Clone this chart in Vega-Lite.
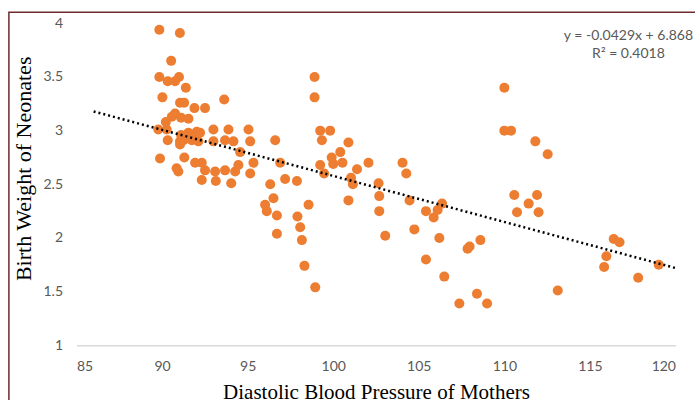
{
  "$schema": "https://vega.github.io/schema/vega-lite/v6.json",
  "width": 599,
  "height": 322,
  "autosize": {"type": "none"},
  "padding": {"left": 76.5, "top": 23.3, "right": 19.5, "bottom": 54.7},
  "background": "white",
  "config": {
    "view": {"stroke": null},
    "axis": {
      "labelFont": "Lato",
      "labelFontSize": 14,
      "labelColor": "#595959",
      "gridColor": "#d9d9d9",
      "gridWidth": 1,
      "ticks": false,
      "titleFont": "Liberation Serif",
      "titleFontWeight": "normal",
      "titleColor": "#000000",
      "titleFontSize": 21
    }
  },
  "datasets": {
    "pts": [
      {"dbp": 89.84, "bw": 3.94}, {"dbp": 91.04, "bw": 3.91}, {"dbp": 90.53, "bw": 3.65},
      {"dbp": 89.84, "bw": 3.50}, {"dbp": 90.33, "bw": 3.46}, {"dbp": 90.76, "bw": 3.46},
      {"dbp": 90.99, "bw": 3.50}, {"dbp": 91.39, "bw": 3.40}, {"dbp": 90.02, "bw": 3.31},
      {"dbp": 91.05, "bw": 3.26}, {"dbp": 91.29, "bw": 3.26}, {"dbp": 93.63, "bw": 3.29},
      {"dbp": 91.89, "bw": 3.21}, {"dbp": 92.51, "bw": 3.21}, {"dbp": 90.76, "bw": 3.16},
      {"dbp": 90.57, "bw": 3.13}, {"dbp": 91.11, "bw": 3.12}, {"dbp": 91.54, "bw": 3.11},
      {"dbp": 90.22, "bw": 3.08}, {"dbp": 89.78, "bw": 3.01}, {"dbp": 90.27, "bw": 3.01},
      {"dbp": 91.54, "bw": 2.98}, {"dbp": 92.03, "bw": 2.99}, {"dbp": 92.22, "bw": 2.98},
      {"dbp": 93.0, "bw": 3.01}, {"dbp": 93.88, "bw": 3.01}, {"dbp": 95.05, "bw": 3.01},
      {"dbp": 90.33, "bw": 2.91}, {"dbp": 91.05, "bw": 2.90}, {"dbp": 91.25, "bw": 2.91},
      {"dbp": 91.74, "bw": 2.91}, {"dbp": 92.12, "bw": 2.90}, {"dbp": 93.0, "bw": 2.90},
      {"dbp": 93.68, "bw": 2.91}, {"dbp": 94.17, "bw": 2.90}, {"dbp": 95.15, "bw": 2.90},
      {"dbp": 94.56, "bw": 2.80}, {"dbp": 95.34, "bw": 2.70}, {"dbp": 89.88, "bw": 2.74},
      {"dbp": 91.30, "bw": 2.75}, {"dbp": 91.93, "bw": 2.70}, {"dbp": 92.32, "bw": 2.70},
      {"dbp": 92.51, "bw": 2.63}, {"dbp": 93.10, "bw": 2.62}, {"dbp": 93.68, "bw": 2.63},
      {"dbp": 94.27, "bw": 2.62}, {"dbp": 94.46, "bw": 2.68}, {"dbp": 90.95, "bw": 2.62},
      {"dbp": 90.85, "bw": 2.65}, {"dbp": 95.15, "bw": 2.60}, {"dbp": 92.32, "bw": 2.54},
      {"dbp": 93.14, "bw": 2.53}, {"dbp": 94.04, "bw": 2.51}, {"dbp": 96.90, "bw": 2.70},
      {"dbp": 96.61, "bw": 2.91}, {"dbp": 91.05, "bw": 2.87}, {"dbp": 91.11, "bw": 2.96},
      {"dbp": 91.75, "bw": 2.95},
      {"dbp": 99.24, "bw": 3.00}, {"dbp": 99.82, "bw": 3.00}, {"dbp": 99.34, "bw": 2.91},
      {"dbp": 99.24, "bw": 2.68}, {"dbp": 99.47, "bw": 2.60}, {"dbp": 99.91, "bw": 2.75},
      {"dbp": 100.0, "bw": 2.69}, {"dbp": 100.41, "bw": 2.80}, {"dbp": 100.89, "bw": 2.89},
      {"dbp": 100.54, "bw": 2.70}, {"dbp": 102.06, "bw": 2.70}, {"dbp": 101.39, "bw": 2.64},
      {"dbp": 101.04, "bw": 2.56}, {"dbp": 101.15, "bw": 2.50}, {"dbp": 100.89, "bw": 2.35},
      {"dbp": 102.65, "bw": 2.51}, {"dbp": 102.69, "bw": 2.39}, {"dbp": 102.69, "bw": 2.25},
      {"dbp": 103.04, "bw": 2.02}, {"dbp": 104.05, "bw": 2.70}, {"dbp": 104.27, "bw": 2.60},
      {"dbp": 104.46, "bw": 2.35}, {"dbp": 104.74, "bw": 2.08}, {"dbp": 105.42, "bw": 2.25},
      {"dbp": 105.87, "bw": 2.19}, {"dbp": 106.10, "bw": 2.26}, {"dbp": 106.36, "bw": 2.32},
      {"dbp": 106.20, "bw": 2.00}, {"dbp": 105.42, "bw": 1.80}, {"dbp": 106.49, "bw": 1.64},
      {"dbp": 107.37, "bw": 1.39}, {"dbp": 108.40, "bw": 1.48}, {"dbp": 108.99, "bw": 1.39},
      {"dbp": 107.85, "bw": 1.90}, {"dbp": 107.97, "bw": 1.92}, {"dbp": 108.60, "bw": 1.98},
      {"dbp": 110.0, "bw": 3.40}, {"dbp": 110.0, "bw": 3.00}, {"dbp": 110.39, "bw": 3.00},
      {"dbp": 111.81, "bw": 2.90}, {"dbp": 112.53, "bw": 2.78}, {"dbp": 110.58, "bw": 2.40},
      {"dbp": 111.91, "bw": 2.40}, {"dbp": 111.42, "bw": 2.32}, {"dbp": 110.74, "bw": 2.24},
      {"dbp": 112.0, "bw": 2.24}, {"dbp": 113.12, "bw": 1.51}, {"dbp": 116.39, "bw": 1.99},
      {"dbp": 116.73, "bw": 1.96}, {"dbp": 115.96, "bw": 1.83}, {"dbp": 115.83, "bw": 1.73},
      {"dbp": 117.82, "bw": 1.63}, {"dbp": 119.02, "bw": 1.75},
      {"dbp": 98.91, "bw": 3.50}, {"dbp": 98.91, "bw": 3.31}, {"dbp": 96.51, "bw": 2.37},
      {"dbp": 96.02, "bw": 2.31}, {"dbp": 96.12, "bw": 2.25}, {"dbp": 96.71, "bw": 2.21},
      {"dbp": 98.56, "bw": 2.31}, {"dbp": 97.91, "bw": 2.20}, {"dbp": 98.07, "bw": 2.10},
      {"dbp": 98.17, "bw": 1.98}, {"dbp": 96.71, "bw": 2.04}, {"dbp": 98.32, "bw": 1.74},
      {"dbp": 98.95, "bw": 1.54}, {"dbp": 97.19, "bw": 2.55}, {"dbp": 97.88, "bw": 2.53},
      {"dbp": 96.32, "bw": 2.50}
    ],
    "trend": [
      {"dbp": 86, "bw": 3.179},
      {"dbp": 120, "bw": 1.720}
    ]
  },
  "layer": [
    {
      "data": {"values": [{}]},
      "mark": {"type": "rect", "fill": null, "fillOpacity": 0, "stroke": "#6d2b2b", "strokeWidth": 1.5, "clip": false},
      "encoding": {
        "x": {"datum": 81.05, "type": "quantitative"},
        "x2": {"datum": 122.5},
        "y": {"datum": 4.102, "type": "quantitative"},
        "y2": {"datum": 0.3}
      }
    },
    {
      "data": {"name": "pts"},
      "mark": {"type": "circle", "size": 100, "color": "#ED7D31", "opacity": 1},
      "encoding": {
        "x": {
          "field": "dbp", "type": "quantitative",
          "scale": {"domain": [85, 120], "nice": false, "zero": false},
          "axis": {
            "values": [85, 90, 95, 100, 105, 110, 115, 120],
            "title": "Diastolic Blood Pressure of Mothers",
            "labelPadding": 14,
            "titlePadding": 8,
            "domainColor": "#d9d9d9",
            "domainWidth": 1.5
          }
        },
        "y": {
          "field": "bw", "type": "quantitative",
          "scale": {"domain": [1, 4], "nice": false, "zero": false},
          "axis": {
            "values": [1, 1.5, 2, 2.5, 3, 3.5, 4],
            "format": "~g",
            "title": "Birth Weight of Neonates",
            "titleFontSize": 22,
            "domain": false,
            "labelPadding": 14,
            "titlePadding": 7,
            "titleY": 145
          }
        }
      }
    },
    {
      "data": {"name": "trend"},
      "mark": {"type": "line", "color": "#000000", "strokeWidth": 2.5, "strokeDash": [2, 3]},
      "encoding": {
        "x": {"field": "dbp", "type": "quantitative"},
        "y": {"field": "bw", "type": "quantitative"}
      }
    },
    {
      "data": {"values": [{}]},
      "mark": {"type": "rect", "color": "white", "clip": false},
      "encoding": {
        "x": {"datum": 113.2, "type": "quantitative"},
        "x2": {"datum": 121.1},
        "y": {"datum": 4.0, "type": "quantitative"},
        "y2": {"datum": 3.685}
      }
    },
    {
      "data": {"values": [{}]},
      "mark": {
        "type": "text", "align": "center", "baseline": "middle",
        "font": "Lato", "fontSize": 14, "color": "#595959",
        "lineBreak": "\n", "lineHeight": 18, "clip": false
      },
      "encoding": {
        "x": {"datum": 117.25, "type": "quantitative"},
        "y": {"datum": 3.885, "type": "quantitative"},
        "text": {"value": "y = -0.0429x + 6.868\nR² = 0.4018"}
      }
    }
  ]
}
